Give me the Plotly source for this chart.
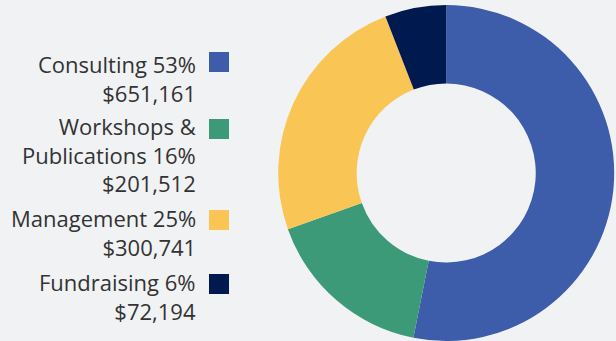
import plotly.graph_objects as go

# Revenue by program area
categories = ["Consulting", "Workshops &<br>Publications", "Management", "Fundraising"]
amounts = [651161, 201512, 300741, 72194]
percent_labels = ["53%", "16%", "25%", "6%"]
amount_labels = ["$651,161", "$201,512", "$300,741", "$72,194"]
colors = ["#3d5dab", "#3d9a79", "#f9c655", "#00194f"]

W, H = 616, 341
BG = "#f1f2f4"
FONT = "'Open Sans', 'Noto Sans', sans-serif"
FS = 22
ASCENT = 1.07 * FS   # distance from text-box top to baseline

fig = go.Figure(
    go.Pie(
        labels=[c.replace("<br>", " ") for c in categories],
        values=amounts,
        hole=0.533,
        sort=False,
        direction="clockwise",
        rotation=0,
        marker=dict(colors=colors, line=dict(width=0)),
        textinfo="none",
        hoverinfo="label+value+percent",
        domain=dict(x=[278.2 / W, 614.2 / W], y=[0, 1 - 5 / H]),
        showlegend=False,
    )
)

# Custom legend: right-aligned text with a colour swatch to its right
first_baselines = [71.5, 133.3, 225.9, 289.9]  # pixel baseline of each entry's first line
swatch_tops = [52, 119, 210, 274]              # pixel top of each swatch
text_right = 197
swatch_left, swatch_size = 209, 20

annotations = []
shapes = []
for cat, pct, amt, col, b0, sy in zip(
    categories, percent_labels, amount_labels, colors, first_baselines, swatch_tops
):
    annotations.append(
        dict(
            x=text_right / W,
            y=1 - (b0 - ASCENT) / H,
            xref="paper",
            yref="paper",
            xanchor="right",
            yanchor="top",
            align="right",
            showarrow=False,
            text=f"{cat} {pct}<br>{amt}",
            font=dict(family=FONT, size=FS, color="#333333"),
            borderpad=0,
        )
    )
    shapes.append(
        dict(
            type="rect",
            xref="paper",
            yref="paper",
            x0=swatch_left / W,
            x1=(swatch_left + swatch_size) / W,
            y0=1 - (sy + swatch_size) / H,
            y1=1 - sy / H,
            fillcolor=col,
            line=dict(width=0),
        )
    )

fig.update_layout(
    width=W,
    height=H,
    margin=dict(l=0, r=0, t=0, b=0),
    paper_bgcolor=BG,
    plot_bgcolor=BG,
    annotations=annotations,
    shapes=shapes,
)

fig.write_html("out.html")
